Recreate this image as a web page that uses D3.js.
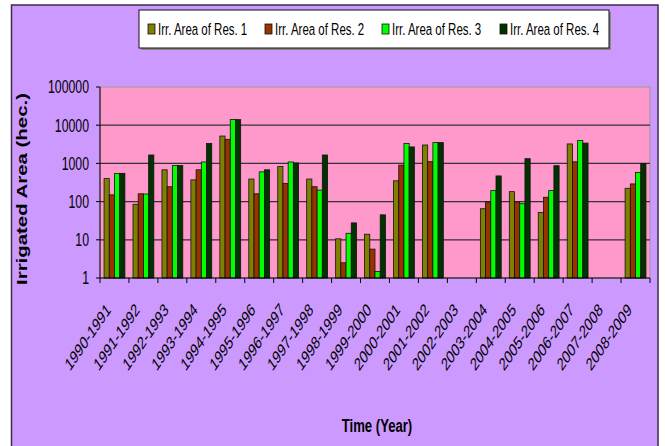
<!DOCTYPE html>
<html>
<head>
<meta charset="utf-8">
<script src="https://cdn.jsdelivr.net/npm/d3@7"></script>
<style>
  body { margin: 0; background: #fff; }
  text { font-family: Arial, "Liberation Sans", sans-serif; fill: #000; }
</style>
</head>
<body>
<div id="chart"></div>
<script>
// 数据
const years = ['1990-1991', '1991-1992', '1992-1993', '1993-1994', '1994-1995', '1995-1996',
    '1996-1997', '1997-1998', '1998-1999', '1999-2000', '2000-2001', '2001-2002', '2002-2003',
    '2003-2004', '2004-2005', '2005-2006', '2006-2007', '2007-2008', '2008-2009'];
const seriesNames = ['Irr. Area of Res. 1', 'Irr. Area of Res. 2', 'Irr. Area of Res. 3', 'Irr. Area of Res. 4'];
const res1 = [400, 85, 680, 370, 5200, 390, 825, 390, 10.6, 14, 350, 3030, null, 65, 182, 52, 3230, null, 223];
const res2 = [150, 160, 245, 680, 4270, 160, 300, 245, 2.5, 5.7, 900, 1110, null, 98, 98, 130, 1100, null, 290];
const res3 = [540, 158, 875, 1090, 14100, 600, 1090, 200, 14.8, 1.47, 3300, 3500, null, 194, 88, 194, 3970, null, 580];
const res4 = [550, 1660, 880, 3300, 14000, 680, 1030, 1660, 27.7, 45, 2700, 3500, null, 470, 1330, 870, 3400, null, 990];
const yTicks = [1, 10, 100, 1000, 10000, 100000];
const colors = ['#808000', '#993300', '#00ff00', '#003300'];

const allSeries = [res1, res2, res3, res4];

const width = 665, height = 446;
const plot = { left: 100, top: 87, right: 650, bottom: 278 };
// 原图被横向压缩、纵向拉伸，文字统一用这个变换
const SQ = 'scale(0.82,1.2)';

const svg = d3.select('#chart').append('svg')
    .attr('width', width)
    .attr('height', height);

// 外框
svg.append('rect')
    .attr('x', 11.5).attr('y', 5)
    .attr('width', 646.5).attr('height', 460)
    .attr('fill', '#cc99ff')
    .attr('stroke', '#3d2b4f')
    .attr('stroke-width', 1.5);

// 绘图区背景
svg.append('rect')
    .attr('x', plot.left).attr('y', plot.top)
    .attr('width', plot.right - plot.left).attr('height', plot.bottom - plot.top)
    .attr('fill', '#ff99cc')
    .attr('stroke', '#999')
    .attr('stroke-width', 1);

const x0 = d3.scaleBand()
    .domain(years)
    .range([plot.left, plot.right])
    .paddingInner(0.28)
    .paddingOuter(0.14);

const x1 = d3.scaleBand()
    .domain(d3.range(4))
    .range([0, x0.bandwidth()]);

const y = d3.scaleLog()
    .domain([1, 100000])
    .range([plot.bottom, plot.top]);

// 网格线
svg.append('g')
    .selectAll('line')
    .data(yTicks.filter(d => d > 1 && d < 100000))
    .enter()
    .append('line')
    .attr('x1', plot.left).attr('x2', plot.right)
    .attr('y1', d => y(d)).attr('y2', d => y(d))
    .attr('stroke', '#333')
    .attr('stroke-width', 1.2);

// 柱子
const groups = svg.append('g')
    .selectAll('g')
    .data(years)
    .enter()
    .append('g')
    .attr('transform', d => `translate(${x0(d)},0)`);

groups.selectAll('rect')
    .data((d, i) => allSeries.map((s, k) => ({ k, v: s[i] })).filter(e => e.v != null))
    .enter()
    .append('rect')
    .attr('x', d => x1(d.k))
    .attr('y', d => y(d.v))
    .attr('width', x1.bandwidth())
    .attr('height', d => plot.bottom - y(d.v))
    .attr('fill', d => colors[d.k])
    .attr('stroke', '#111')
    .attr('stroke-width', 0.8);

// 坐标轴线
svg.append('line')
    .attr('x1', plot.left).attr('x2', plot.left)
    .attr('y1', plot.top).attr('y2', plot.bottom)
    .attr('stroke', '#000');
svg.append('line')
    .attr('x1', plot.left).attr('x2', plot.right)
    .attr('y1', plot.bottom).attr('y2', plot.bottom)
    .attr('stroke', '#000');

// y 轴刻度
const yAxis = svg.append('g');
yAxis.selectAll('line')
    .data(yTicks)
    .enter()
    .append('line')
    .attr('x1', plot.left - 4).attr('x2', plot.left)
    .attr('y1', d => y(d)).attr('y2', d => y(d))
    .attr('stroke', '#000');
yAxis.selectAll('text')
    .data(yTicks)
    .enter()
    .append('text')
    .attr('transform', d => `translate(89,${y(d)}) ${SQ}`)
    .attr('dy', '0.36em')
    .attr('text-anchor', 'end')
    .style('font-size', '15px')
    .text(d => d);

// x 轴刻度
const step = x0.step();
const xTickPos = d3.range(years.length + 1).map(i => plot.left + i * step);
svg.append('g')
    .selectAll('line')
    .data(xTickPos)
    .enter()
    .append('line')
    .attr('x1', d => d).attr('x2', d => d)
    .attr('y1', plot.bottom).attr('y2', plot.bottom + 5)
    .attr('stroke', '#000');

svg.append('g')
    .selectAll('text')
    .data(years)
    .enter()
    .append('text')
    .attr('transform', d => `translate(${x0(d) + x0.bandwidth() / 2 - 3},311) ${SQ} rotate(-45)`)
    .attr('text-anchor', 'end')
    .style('font-size', '15px')
    .text(d => d);

// 坐标轴标题
svg.append('text')
    .attr('transform', `translate(377,432) ${SQ}`)
    .attr('text-anchor', 'middle')
    .style('font-size', '16px')
    .style('font-weight', 'bold')
    .text('Time (Year)');

svg.append('text')
    .attr('transform', `translate(27,189) ${SQ} rotate(-90)`)
    .attr('text-anchor', 'middle')
    .style('font-size', '17px')
    .style('font-weight', 'bold')
    .text('Irrigated Area (hec.)');

// 图例
const legend = svg.append('g');
legend.append('rect')
    .attr('x', 141).attr('y', 12)
    .attr('width', 470).attr('height', 38)
    .attr('fill', '#888');
legend.append('rect')
    .attr('x', 139).attr('y', 10)
    .attr('width', 470).attr('height', 38)
    .attr('fill', '#fff')
    .attr('stroke', '#111');

const legendX = [148, 265, 382, 500];
const items = legend.selectAll('g.item')
    .data(seriesNames)
    .enter()
    .append('g')
    .attr('class', 'item')
    .attr('transform', (d, i) => `translate(${legendX[i]},0)`);
items.append('rect')
    .attr('x', 0).attr('y', 24)
    .attr('width', 7).attr('height', 10)
    .attr('fill', (d, i) => colors[i])
    .attr('stroke', '#111')
    .attr('stroke-width', 0.8);
items.append('text')
    .attr('transform', `translate(10,35) ${SQ}`)
    .style('font-size', '14px')
    .text(d => d);
</script>
</body>
</html>
